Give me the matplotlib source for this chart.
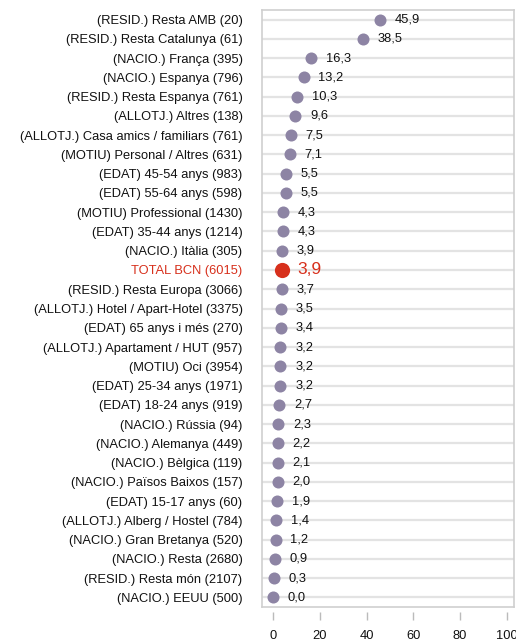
import matplotlib.pyplot as plt

plt.rcParams['font.family'] = ['Liberation Sans', 'DejaVu Sans']

labels = [
    "(RESID.) Resta AMB (20)",
    "(RESID.) Resta Catalunya (61)",
    "(NACIO.) França (395)",
    "(NACIO.) Espanya (796)",
    "(RESID.) Resta Espanya (761)",
    "(ALLOTJ.) Altres (138)",
    "(ALLOTJ.) Casa amics / familiars (761)",
    "(MOTIU) Personal / Altres (631)",
    "(EDAT) 45-54 anys (983)",
    "(EDAT) 55-64 anys (598)",
    "(MOTIU) Professional (1430)",
    "(EDAT) 35-44 anys (1214)",
    "(NACIO.) Itàlia (305)",
    "TOTAL BCN (6015)",
    "(RESID.) Resta Europa (3066)",
    "(ALLOTJ.) Hotel / Apart-Hotel (3375)",
    "(EDAT) 65 anys i més (270)",
    "(ALLOTJ.) Apartament / HUT (957)",
    "(MOTIU) Oci (3954)",
    "(EDAT) 25-34 anys (1971)",
    "(EDAT) 18-24 anys (919)",
    "(NACIO.) Rússia (94)",
    "(NACIO.) Alemanya (449)",
    "(NACIO.) Bèlgica (119)",
    "(NACIO.) Països Baixos (157)",
    "(EDAT) 15-17 anys (60)",
    "(ALLOTJ.) Alberg / Hostel (784)",
    "(NACIO.) Gran Bretanya (520)",
    "(NACIO.) Resta (2680)",
    "(RESID.) Resta món (2107)",
    "(NACIO.) EEUU (500)",
]
values = [45.9, 38.5, 16.3, 13.2, 10.3, 9.6, 7.5, 7.1, 5.5, 5.5, 4.3, 4.3, 3.9,
          3.9, 3.7, 3.5, 3.4, 3.2, 3.2, 3.2, 2.7, 2.3, 2.2, 2.1, 2.0, 1.9, 1.4,
          1.2, 0.9, 0.3, 0.0]
total_label = "TOTAL BCN (6015)"

dot_color = '#8D84A4'
total_color = '#D7301C'
grid_color = '#E3E3E3'
frame_color = '#CFCFCF'

fig = plt.figure(figsize=(5.16, 6.43), dpi=100)
ax = fig.add_axes([262 / 516, 1 - 607 / 643, 252 / 516, 597 / 643])

ypos = list(range(len(labels)))
for y in ypos:
    ax.axhline(y, color=grid_color, lw=1.6, zorder=0)

for y, v, lab in zip(ypos, values, labels):
    txt = f"{v:.1f}".replace('.', ',')
    if lab == total_label:
        ax.scatter(v, y, s=120, color=total_color, zorder=3, linewidths=0)
        ax.annotate(txt, (v, y), xytext=(11, 0), textcoords='offset points',
                    va='center', ha='left', fontsize=12.5, color=total_color)
    else:
        ax.scatter(v, y, s=75, color=dot_color, zorder=3, linewidths=0)
        ax.annotate(txt, (v, y), xytext=(10.5, 0), textcoords='offset points',
                    va='center', ha='left', fontsize=9.3, color='#111111')

ax.set_xlim(-4.7, 103)
ax.set_ylim(len(labels) - 0.5, -0.5)
ax.set_yticks(ypos)
ax.set_yticklabels(labels, fontsize=9.3, color='#111111')
for t in ax.get_yticklabels():
    if t.get_text() == total_label:
        t.set_color(total_color)
ax.tick_params(axis='y', length=0, pad=14)
ax.set_xticks([])
for s in ax.spines.values():
    s.set_color(frame_color)
    s.set_linewidth(1.2)

sec = ax.secondary_xaxis(-0.008)
sec.set_xticks([0, 20, 40, 60, 80, 100])
sec.spines['bottom'].set_visible(False)
sec.tick_params(axis='x', length=6, width=1, color='#BBBBBB', pad=7,
                labelsize=9.3, labelcolor='#111111')

fig.savefig('out.png', dpi=100)
